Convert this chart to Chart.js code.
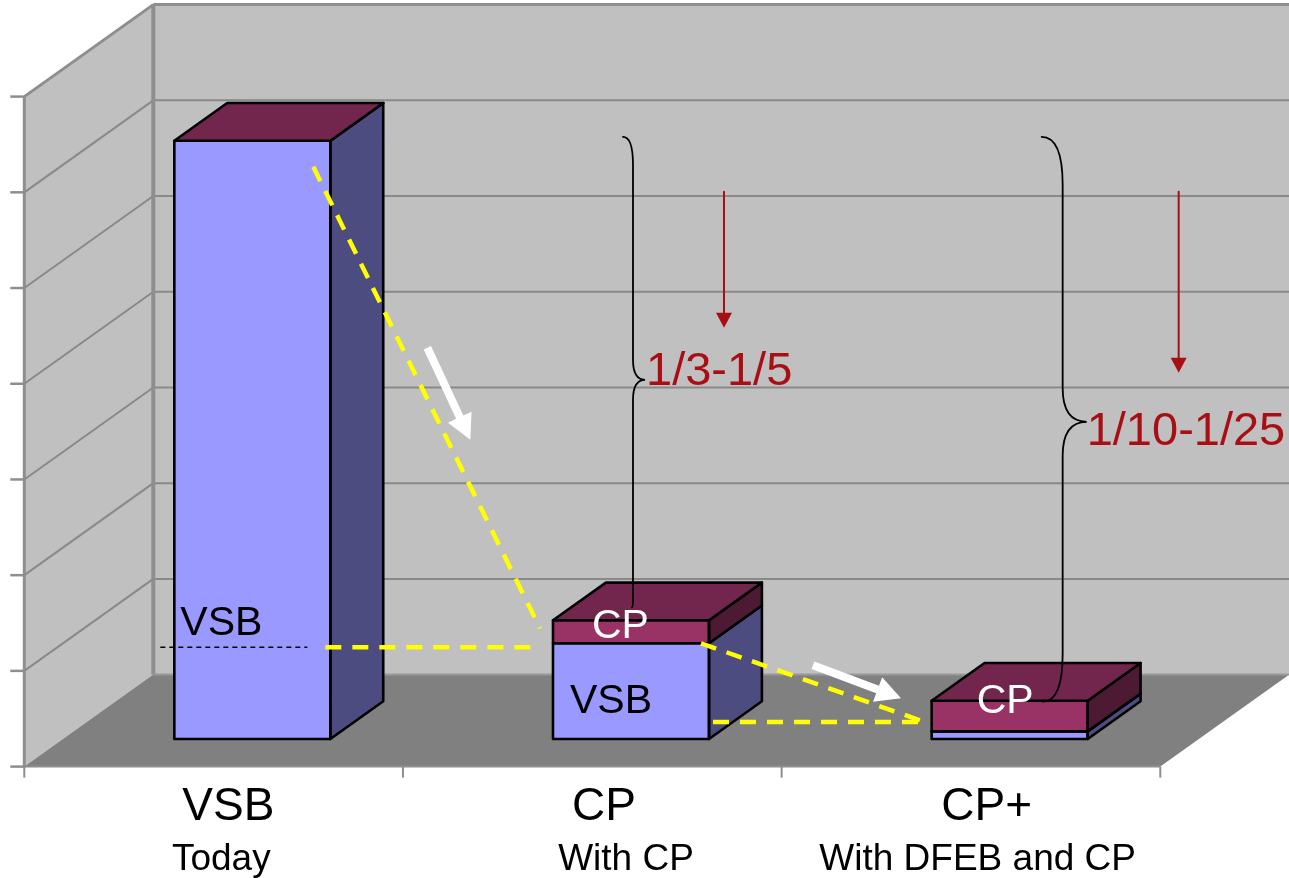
<!DOCTYPE html>
<html>
<head>
<meta charset="utf-8">
<script src="https://cdn.jsdelivr.net/npm/chart.js@4.4.1/dist/chart.umd.min.js"></script>
<style>
  html, body { margin: 0; padding: 0; background: #ffffff; }
  #wrap { position: relative; width: 1289px; height: 878px; }
</style>
</head>
<body>
<div id="wrap"><canvas id="c" width="1289" height="878"></canvas></div>
<script>
// ---- data ----
const categories = ['VSB', 'CP', 'CP+'];
const subtitles = ['Today', 'With CP', 'With DFEB and CP'];
const vsbValues = [6.25, 1.0, 0.08];
const cpValues = [0, 0.24, 0.32];
const yTicks = [0, 1, 2, 3, 4, 5, 6, 7];
const reductionLabels = ['1/3-1/5', '1/10-1/25'];

// ---- 3D look ----
const FONT = '"Liberation Sans", Arial, Helvetica, sans-serif';
const DEPTH = { x: 129, y: -92 };   // full floor depth vector
const BAR_FRONT = 0.30;              // bars sit this far back from the front edge
const BAR_DEPTH = 0.41;              // bar thickness along the depth vector
const SHADES = [
  { front: '#9999ff', side: '#4c4c80', top: '#6b6bb3' },
  { front: '#993366', side: '#4d1a33', top: '#73264d' }
];
const WALL = '#c0c0c0', FLOOR = '#808080', GRID = '#898989', EDGE = '#8e8e8e';
const OUTLINE = 2.6;

const fo = { x: -DEPTH.x * BAR_FRONT, y: -DEPTH.y * BAR_FRONT };           // front plane
const bo = { x: DEPTH.x * (1 - BAR_FRONT), y: DEPTH.y * (1 - BAR_FRONT) }; // back wall plane
const bd = { x: DEPTH.x * BAR_DEPTH, y: DEPTH.y * BAR_DEPTH };             // bar depth

function line(ctx, x1, y1, x2, y2) {
  ctx.beginPath(); ctx.moveTo(x1, y1); ctx.lineTo(x2, y2); ctx.stroke();
}
function poly(ctx, pts, fill, stroke, lw) {
  ctx.beginPath();
  pts.forEach((p, k) => k ? ctx.lineTo(p[0], p[1]) : ctx.moveTo(p[0], p[1]));
  ctx.closePath();
  if (fill) { ctx.fillStyle = fill; ctx.fill(); }
  if (stroke) { ctx.strokeStyle = stroke; ctx.lineWidth = lw; ctx.lineJoin = 'round'; ctx.stroke(); }
}

// walls, floor, gridlines and axis ticks
const wallsPlugin = {
  id: 'walls',
  beforeDatasetsDraw(chart) {
    const { ctx, chartArea: a, scales: { y } } = chart;
    const yMin = y.getPixelForValue(yTicks[0]);
    const yMax = y.getPixelForValue(yTicks[yTicks.length - 1]);
    const fl = a.left + fo.x, fr = a.right + fo.x;
    const bl = a.left + bo.x, br = a.right + bo.x;
    ctx.save();
    // back wall
    poly(ctx, [[bl, yMax + bo.y], [br, yMax + bo.y], [br, yMin + bo.y], [bl, yMin + bo.y]], WALL);
    // side wall
    poly(ctx, [[fl, yMax + fo.y], [bl, yMax + bo.y], [bl, yMin + bo.y], [fl, yMin + fo.y]], WALL);
    // floor
    poly(ctx, [[fl, yMin + fo.y], [fr, yMin + fo.y], [br, yMin + bo.y], [bl, yMin + bo.y]], FLOOR);
    // gridlines
    ctx.strokeStyle = GRID; ctx.lineWidth = 2;
    yTicks.slice(1, -1).forEach(v => {
      const py = y.getPixelForValue(v);
      line(ctx, bl, py + bo.y, br, py + bo.y);
      line(ctx, fl, py + fo.y, bl, py + bo.y);
    });
    // edges
    ctx.strokeStyle = '#999999'; ctx.lineWidth = 2;
    line(ctx, bl, yMin + bo.y, br, yMin + bo.y);
    ctx.strokeStyle = EDGE; ctx.lineWidth = 3;
    line(ctx, bl, yMax + bo.y, br, yMax + bo.y);
    line(ctx, fl, yMax + fo.y, bl, yMax + bo.y);
    ctx.lineWidth = 4;
    line(ctx, bl, yMax + bo.y, bl, yMin + bo.y);
    ctx.lineWidth = 3;
    line(ctx, fl, yMax + fo.y, fl, yMin + fo.y + 1);
    ctx.lineWidth = 2;
    line(ctx, fl, yMin + fo.y, fr, yMin + fo.y);
    // value-axis ticks
    ctx.lineWidth = 2.5;
    yTicks.forEach(v => {
      const py = y.getPixelForValue(v) + fo.y;
      line(ctx, fl - 14, py, fl, py);
    });
    // category ticks
    ctx.lineWidth = 2;
    const step = a.width / categories.length;
    for (let i = 0; i <= categories.length; i++) {
      const px = fl + i * step;
      line(ctx, px, yMin + fo.y, px, yMin + fo.y + 11);
    }
    ctx.restore();
  }
};

function segOf(chart, d, i) {
  const e = chart.getDatasetMeta(d).data[i];
  return { l: e.x - e.width / 2, r: e.x + e.width / 2,
           t: Math.min(e.y, e.base), b: Math.max(e.y, e.base), cx: e.x };
}

// side and top faces of the stacked columns
const boxPlugin = {
  id: 'box3d',
  afterDatasetsDraw(chart) {
    const { ctx } = chart;
    const nd = chart.data.datasets.length;
    ctx.save();
    categories.forEach((c, i) => {
      for (let d = 0; d < nd; d++) {
        const s = segOf(chart, d, i);
        poly(ctx, [[s.r, s.b], [s.r + bd.x, s.b + bd.y], [s.r + bd.x, s.t + bd.y], [s.r, s.t]],
             SHADES[d].side, '#000', OUTLINE);
        if (s.b - s.t > 0.5) poly(ctx, [[s.l, s.t], [s.r, s.t], [s.r, s.b], [s.l, s.b]], null, '#000', OUTLINE);
      }
      const top = segOf(chart, nd - 1, i);
      poly(ctx, [[top.l, top.t], [top.l + bd.x, top.t + bd.y], [top.r + bd.x, top.t + bd.y], [top.r, top.t]],
           SHADES[nd - 1].top, '#000', OUTLINE);
    });
    ctx.restore();
  }
};

function brace(ctx, x, yTop, hTop, rTop, yTip, dTip, rTip, yBot, hBot, rBot) {
  ctx.beginPath();
  ctx.moveTo(x - hTop, yTop);
  ctx.quadraticCurveTo(x, yTop, x, yTop + rTop);
  ctx.lineTo(x, yTip - rTip);
  ctx.quadraticCurveTo(x, yTip, x + dTip, yTip);
  ctx.quadraticCurveTo(x, yTip, x, yTip + rTip);
  ctx.lineTo(x, yBot - rBot);
  ctx.quadraticCurveTo(x, yBot, x - hBot, yBot);
  ctx.stroke();
}
function fatArrow(ctx, x1, y1, x2, y2, shaft, headLen, headHalf, color) {
  const len = Math.hypot(x2 - x1, y2 - y1);
  const ux = (x2 - x1) / len, uy = (y2 - y1) / len, px = -uy, py = ux;
  const bx = x2 - ux * headLen, by = y2 - uy * headLen;
  const h = shaft / 2;
  poly(ctx, [[x1 + px * h, y1 + py * h], [bx + px * h, by + py * h], [bx + px * headHalf, by + py * headHalf],
             [x2, y2], [bx - px * headHalf, by - py * headHalf], [bx - px * h, by - py * h],
             [x1 - px * h, y1 - py * h]], color);
}
function thinArrow(ctx, x, y1, y2, color) {
  ctx.strokeStyle = color; ctx.lineWidth = 2;
  line(ctx, x, y1, x, y2 - 10);
  poly(ctx, [[x - 8, y2 - 15], [x + 8, y2 - 15], [x, y2]], color);
}

// guide lines, arrows, braces and text
const notesPlugin = {
  id: 'notes',
  afterDraw(chart) {
    const { ctx, scales: { y } } = chart;
    const s00 = segOf(chart, 0, 0), s01 = segOf(chart, 0, 1), s02 = segOf(chart, 0, 2);
    const s11 = segOf(chart, 1, 1), s12 = segOf(chart, 1, 2);
    const baseY = y.getPixelForValue(0) + fo.y;
    ctx.save();

    // in-bar labels
    ctx.textAlign = 'left'; ctx.textBaseline = 'alphabetic';
    ctx.font = '41px ' + FONT;
    ctx.fillStyle = '#000';
    ctx.fillText('VSB', s00.l + 6, s01.t - 8);
    ctx.fillText('VSB', s01.l + 17, s01.b - 26);
    ctx.fillStyle = '#fff';
    ctx.fillText('CP', s11.l + 39, s11.b - 5);
    ctx.fillText('CP', s12.l + 45, s12.b - 18);

    // black reference line at the VSB level
    ctx.strokeStyle = '#000'; ctx.lineWidth = 1.5; ctx.setLineDash([5, 4]);
    line(ctx, s00.l - 14, s01.t + 4, s00.r - 23, s01.t + 4);

    // yellow guide lines
    ctx.strokeStyle = '#ffff00'; ctx.lineWidth = 4.5; ctx.setLineDash([16, 11]);
    line(ctx, s00.r - 17, s00.t + 26, s01.l - 13, s11.t + 8);
    line(ctx, s00.r - 5, s01.t + 4, s01.l - 13, s01.t + 4);
    line(ctx, s01.r - 8, s01.t, s02.l - 7, s02.b - 17);
    line(ctx, s01.r + 4, s02.b - 17, s02.l - 7, s02.b - 17);
    ctx.setLineDash([]);

    // white trend arrows
    fatArrow(ctx, s00.r + 97, s00.t + 207, s00.r + 140, s00.t + 299, 8, 25, 13, '#ffffff');
    fatArrow(ctx, s01.r + 104, s01.t + 22, s01.r + 192, s01.t + 55, 8, 25, 13, '#ffffff');

    // braces
    ctx.strokeStyle = '#000'; ctx.lineWidth = 1.8; ctx.lineCap = 'round';
    const b1x = s11.l + 80, b2x = s12.l + 131;
    const tip1 = s00.t + 239, tip2 = s00.t + 281;
    brace(ctx, b1x, s00.t - 4, 10, 28, tip1, 12, 20, s11.t - 13, 1, 6);
    brace(ctx, b2x, s00.t - 4, 21, 48, tip2, 24, 34, s12.t + 1, 20, 48);

    // red reduction arrows and labels
    const red = '#a80f14';
    thinArrow(ctx, s11.r + 15, s00.t + 51, s00.t + 187, red);
    thinArrow(ctx, s12.r + 91, s00.t + 51, s00.t + 232, red);
    ctx.fillStyle = red; ctx.font = '47px ' + FONT;
    ctx.fillText(reductionLabels[0], b1x + 13, tip1 + 5);
    ctx.fillText(reductionLabels[1], b2x + 24, tip2 + 23);

    // category labels
    const labelShift = [-24, -27, -23];
    const subShift = [-31, -5, -32];
    ctx.fillStyle = '#000'; ctx.textAlign = 'center';
    categories.forEach((c, i) => {
      const s = segOf(chart, 0, i);
      ctx.font = '46px ' + FONT;
      ctx.fillText(c, s.cx + labelShift[i], baseY + 53);
      ctx.font = '37px ' + FONT;
      ctx.fillText(subtitles[i], s.cx + subShift[i], baseY + 103);
    });
    ctx.restore();
  }
};

new Chart(document.getElementById('c'), {
  type: 'bar',
  data: {
    labels: categories,
    datasets: [
      { label: 'VSB', data: vsbValues, backgroundColor: SHADES[0].front, borderWidth: 0 },
      { label: 'CP', data: cpValues, backgroundColor: SHADES[1].front, borderWidth: 0 }
    ]
  },
  options: {
    responsive: false,
    animation: false,
    devicePixelRatio: 1,
    layout: { padding: { left: 63, right: 90, top: 69, bottom: 139 } },
    datasets: { bar: { categoryPercentage: 1, barPercentage: 0.412 } },
    scales: {
      x: { stacked: true, display: false },
      y: { stacked: true, display: false, min: 0, max: 7 }
    },
    plugins: { legend: { display: false }, tooltip: { enabled: false } }
  },
  plugins: [wallsPlugin, boxPlugin, notesPlugin]
});
</script>
</body>
</html>
